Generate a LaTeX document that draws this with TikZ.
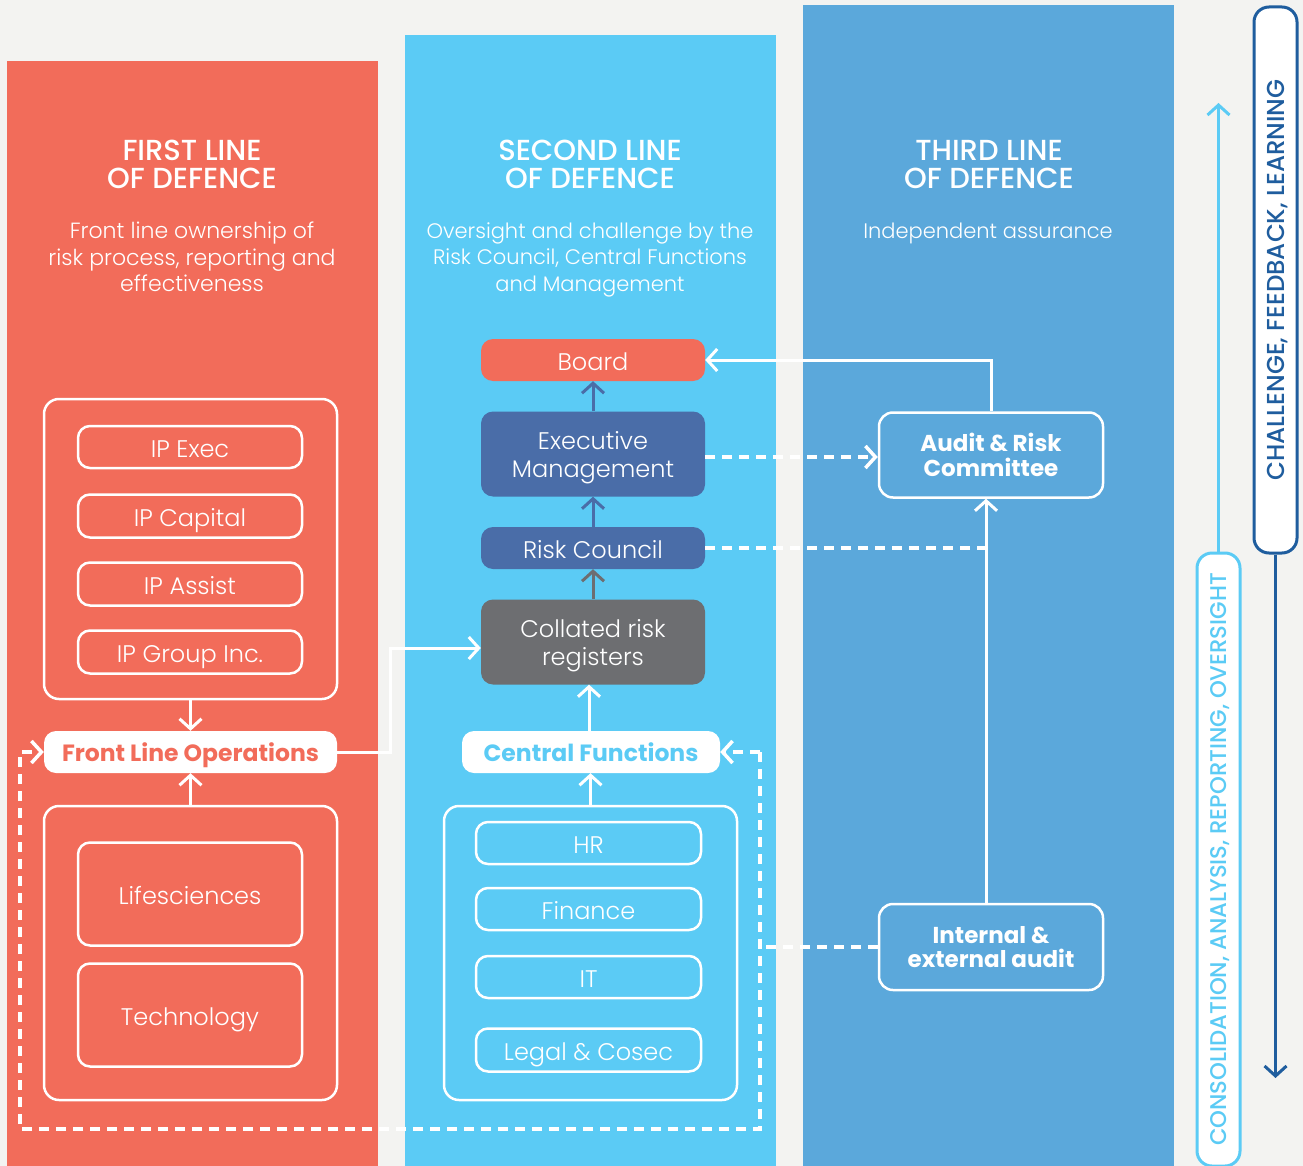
\documentclass[tikz,border=0pt]{standalone}
\usepackage{fontspec}
\setmainfont{Poppins}
\newfontfamily\lightf{Poppins Light}
\newfontfamily\semif{Poppins SemiBold}
\newfontfamily\medf{Poppins Medium}
\usetikzlibrary{arrows.meta}
\definecolor{bgc}{HTML}{F3F3F1}
\definecolor{coral}{HTML}{F26C5A}
\definecolor{lblue}{HTML}{5BCBF5}
\definecolor{mblue}{HTML}{5BA8DB}
\definecolor{dblue}{HTML}{4A6DA8}
\definecolor{dgray}{HTML}{6D6E71}
\definecolor{navy}{HTML}{1F5D9E}
\tikzset{
  hdr/.style={text=white, align=center, inner sep=0pt, text depth=0pt, font=\medf\fontsize{29}{28.5}\selectfont},
  subt/.style={text=white, align=center, inner sep=0pt, text depth=0pt, font=\lightf\fontsize{21}{26.5}\selectfont},
  wbox/.style={draw=white, line width=2.5pt, rounded corners=12pt, text=white, align=center, inner sep=0pt, text height=20pt, text depth=0pt, font=\lightf\fontsize{24}{28}\selectfont},
  obox/.style={draw=white, line width=2.5pt, rounded corners=15pt, inner sep=0pt},
  fbox/.style={rounded corners=12pt, text=white, align=center, inner sep=0pt, text height=20pt, text depth=0pt, font=\lightf\fontsize{24}{28}\selectfont},
  mfbox/.style={rounded corners=12pt, text=white, align=center, inner sep=0pt, text depth=0pt, font=\lightf\fontsize{24}{28}\selectfont},
  bbox/.style={draw=white, line width=2.5pt, rounded corners=14pt, text=white, align=center, inner sep=0pt, text depth=0pt, font=\bfseries\fontsize{23}{24.5}\selectfont},
  pill/.style={fill=white, rounded corners=12pt, align=center, inner sep=0pt, text height=19pt, text depth=0pt, font=\bfseries\fontsize{23.5}{24}\selectfont},
  tipw/.style={-{Straight Barb[length=10pt,width=22pt]}},
  wline/.style={draw=white, line width=3pt, line cap=butt},
  warr/.style={wline, tipw},
  wdash/.style={draw=white, line width=3.5pt, dash pattern=on 10pt off 7pt},
  carr/.style={line width=3pt, tipw},
  rotlab/.style={rotate=90, fill=white, line width=3pt, rounded corners=15pt, inner sep=0pt, text depth=0pt, minimum height=43pt},
}
\begin{document}
\begin{tikzpicture}[x=1pt,y=-1pt]
\useasboundingbox (0,0) rectangle (1303,1166);
\fill[bgc] (0,0) rectangle (1303,1166);
\fill[coral] (7,61) rectangle (378,1166);
\fill[lblue] (405,35) rectangle (776,1166);
\fill[mblue] (803,5) rectangle (1174,1166);

% headers
\node[hdr] (h1) at (192,164.5) {FIRST LINE\\OF DEFENCE};
\node[subt, font=\lightf\fontsize{22}{26.5}\selectfont] (s1) at (192,257) {Front line ownership of\\risk process, reporting and\\effectiveness};
\node[hdr] (h2) at (590,164.5) {SECOND LINE\\OF DEFENCE};
\node[subt] (s2) at (590,257) {Oversight and challenge by the\\Risk Council, Central Functions\\and Management};
\node[hdr] (h3) at (989,164.5) {THIRD LINE\\OF DEFENCE};
\node[subt] (s3) at (988,230.5) {Independent assurance};

% first line
\node[obox, minimum width=293pt, minimum height=300pt] (o1) at (190.5,549) {};
\node[wbox, minimum width=224pt, minimum height=42pt] (ipexec) at (190,447) {IP Exec};
\node[wbox, minimum width=224pt, minimum height=43pt] (ipcap) at (190,516) {IP Capital};
\node[wbox, minimum width=224pt, minimum height=43pt] (ipas) at (190,584) {IP Assist};
\node[wbox, minimum width=224pt, minimum height=43pt] (ipgr) at (190,652) {IP Group Inc.};
\node[pill, text=coral, minimum width=293pt, minimum height=42pt] (flo) at (190.5,752) {Front Line Operations};
\node[obox, minimum width=293pt, minimum height=294pt] (o2) at (190.5,953) {};
\node[wbox, minimum width=224pt, minimum height=103pt] (life) at (190,894) {Lifesciences};
\node[wbox, minimum width=224pt, minimum height=103pt] (tech) at (190,1015) {Technology};

% second line
\node[fbox, fill=coral, minimum width=224pt, minimum height=42pt] (board) at (593,360) {Board};
\node[mfbox, fill=dblue, minimum width=224pt, minimum height=85pt] (exec) at (593,454) {Executive\\Management};
\node[fbox, fill=dblue, minimum width=224pt, minimum height=42pt] (rc) at (593,548) {Risk Council};
\node[mfbox, fill=dgray, minimum width=224pt, minimum height=85pt] (coll) at (593,642) {Collated risk\\registers};
\node[pill, text=lblue, minimum width=258pt, minimum height=42pt] (cf) at (591,752) {Central Functions};
\node[obox, minimum width=293pt, minimum height=294pt] (o3) at (590.5,953) {};
\node[wbox, minimum width=225pt, minimum height=42pt] (hr) at (588.5,843) {HR};
\node[wbox, minimum width=225pt, minimum height=42pt] (fin) at (588.5,909) {Finance};
\node[wbox, minimum width=225pt, minimum height=42pt] (it) at (588.5,977) {IT};
\node[wbox, minimum width=225pt, minimum height=43pt] (legal) at (588.5,1050) {Legal \& Cosec};

% third line
\node[bbox, minimum width=224pt, minimum height=85pt] (arc) at (991,455) {Audit \& Risk\\Committee};
\node[bbox, minimum width=224pt, minimum height=86pt] (iea) at (991,947) {Internal \&\\external audit};

% right side labels
\node[rotlab, draw=navy, text=navy, minimum width=546pt, font=\medf\fontsize{24.5}{24}\selectfont] (clf) at (1275.5,280) {CHALLENGE, FEEDBACK, LEARNING};
\node[rotlab, draw=lblue, text=lblue, minimum width=613pt, font=\medf\fontsize{22.7}{24}\selectfont] (cao) at (1218.5,859.5) {CONSOLIDATION, ANALYSIS, REPORTING, OVERSIGHT};
\coordinate (navend) at (1275.5,1078);
\coordinate (lbend) at (1218.5,103);
\draw[carr, navy] (clf.west) -- (navend);
\draw[carr, lblue] (cao.east) -- (lbend);

% connectors first line
\draw[warr] (o1.south) -- (flo.north);
\draw[warr] (o2.north) -- (flo.south);
\coordinate (fl1) at (390,648);
\draw[warr] (flo.east) -| (fl1) -- (fl1 -| coll.west);

% connectors second line
\draw[carr, dblue] (exec.north) -- (board.south);
\draw[carr, dblue] (rc.north) -- (exec.south);
\draw[carr, dgray] (coll.north) -- (rc.south);
\coordinate (cfx) at (589,0);
\draw[warr] (cf.north -| cfx) -- (coll.south -| cfx);
\draw[warr] (o3.north) -- (o3.north |- cf.south);

% third line connectors
\coordinate (vx) at (986,0);
\draw[warr] (arc.north) |- (board.east);
\draw[wdash, tipw] (exec.east) ++(0,3) -- (arc.west |- 0,457);
\draw[wdash] (rc.east) -- (rc.east -| vx);
\draw[warr] (iea.north -| vx) -- (arc.south -| vx);

% dashed loop
\coordinate (dtr) at (760,752);
\coordinate (dbr) at (760,1129);
\coordinate (dbl) at (20,1129);
\coordinate (dtl) at (20,752);
\draw[wdash, tipw] (dtr) -- (dbr) -- (dbl) -- (dtl) -- (flo.west);
\draw[wdash, tipw] (dtr) -- (cf.east);
\draw[wdash] (iea.west) -- (iea.west -| dtr);
\end{tikzpicture}
\end{document}
